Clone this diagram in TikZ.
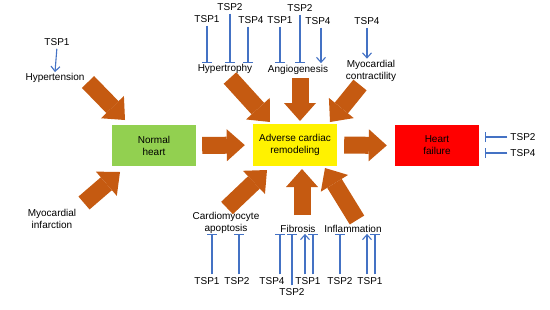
\documentclass[tikz,border=0pt]{standalone}
\usepackage{fontspec}
\setmainfont{Liberation Sans}
\usepackage{xcolor}
\usetikzlibrary{arrows.meta}
\definecolor{remodorange}{HTML}{C55A11}
\definecolor{tspblue}{HTML}{4472C4}
\definecolor{heartgreen}{HTML}{92D050}

\tikzset{
  stagebox/.style={minimum width=84pt,minimum height=41pt,align=center,inner sep=0pt},
  lbl/.style={align=center,inner sep=1pt},
  bigarrow/.style={remodorange,line width=17pt,
    -{Triangle[length=18pt,width=32pt,line width=0pt]}},
  inhibit/.style={tspblue,line width=1.1pt,shorten <=2pt,
    -{Bar[width=10pt]}},
  promote/.style={tspblue,line width=1.1pt,shorten <=2pt,
    -{Straight Barb[length=5pt,width=9pt]}}
}

\begin{document}
\begin{tikzpicture}[x=1pt,y=-1pt,every node/.style={font=\fontsize{10}{12}\selectfont}]
  \useasboundingbox (0,0) rectangle (550,309);

  % Stages
  \node[stagebox,fill=heartgreen] (normal) at (154,145.5) {Normal\\heart};
  \node[stagebox,fill=yellow,minimum height=42pt] (adverse) at (295,145) {Adverse cardiac\\remodeling};
  \node[stagebox,fill=red] (failure) at (437,145.5) {Heart\\failure};

  % Causes
  \node[lbl] (tsp1ht) at (57,42) {TSP1};
  \node[lbl] (hypertension) at (55,78) {Hypertension};
  \node[lbl] (infarction) at (52,219) {Myocardial\\infarction};

  % Top processes
  \node[lbl] (tsp1hy) at (207,19) {TSP1};
  \node[lbl] (tsp2hy) at (230,7) {TSP2};
  \node[lbl] (tsp4hy) at (251,20) {TSP4};
  \node[lbl] (hypertrophy) at (225,69) {Hypertrophy};
  \node[lbl] (tsp1an) at (280,20) {TSP1};
  \node[lbl] (tsp2an) at (300,8) {TSP2};
  \node[lbl] (tsp4an) at (318,21) {TSP4};
  \node[lbl] (angio) at (298,70) {Angiogenesis};
  \node[lbl] (tsp4mc) at (367,21) {TSP4};
  \node[lbl] (contract) at (371,70.5) {Myocardial\\contractility};

  % Bottom processes
  \node[lbl] (apoptosis) at (226,222.5) {Cardiomyocyte\\apoptosis};
  \node[lbl] (fibrosis) at (298,229) {Fibrosis};
  \node[lbl] (inflammation) at (353,229) {Inflammation};
  \node[lbl] (tsp1ap) at (207,281) {TSP1};
  \node[lbl] (tsp2ap) at (237,281) {TSP2};
  \node[lbl] (tsp4fi) at (272,281) {TSP4};
  \node[lbl] (tsp2fi) at (292,292) {TSP2};
  \node[lbl] (tsp1fi) at (308,281) {TSP1};
  \node[lbl] (tsp2in) at (340,281) {TSP2};
  \node[lbl] (tsp1in) at (370,281) {TSP1};

  % Heart failure
  \node[lbl] (tsp2hf) at (523,137) {TSP2};
  \node[lbl] (tsp4hf) at (523,153) {TSP4};

  % Block arrow ends
  \coordinate (htA) at (88,82);   \coordinate (htB) at (125,120);
  \coordinate (miA) at (84,203);  \coordinate (miB) at (120,172);
  \coordinate (hyA) at (230,78);  \coordinate (hyB) at (270,122);
  \coordinate (anA) at (300,78);  \coordinate (anB) at (300,121);
  \coordinate (mcA) at (360,85);  \coordinate (mcB) at (330,122);
  \coordinate (apA) at (227,208); \coordinate (apB) at (267,170);
  \coordinate (fiA) at (302,215); \coordinate (fiB) at (302,169);
  \coordinate (inA) at (357,220); \coordinate (inB) at (325,168);

  % Block arrows
  \draw[bigarrow] (htA) -- (htB);
  \draw[bigarrow] (miA) -- (miB);
  \draw[bigarrow,shorten <=6pt,shorten >=8pt] (normal.east) -- (adverse.west);
  \draw[bigarrow,shorten <=7pt,shorten >=8pt] (adverse.east) -- (failure.west);
  \draw[bigarrow] (hyA) -- (hyB);
  \draw[bigarrow] (anA) -- (anB);
  \draw[bigarrow] (mcA) -- (mcB);
  \draw[bigarrow] (apA) -- (apB);
  \draw[bigarrow] (fiA) -- (fiB);
  \draw[bigarrow] (inA) -- (inB);

  % TSP effects, top
  \draw[promote] (tsp1ht.south) -- (hypertension.north);
  \draw[inhibit] (tsp1hy.south) -- (tsp1hy.south |- hypertrophy.north);
  \draw[inhibit] (tsp2hy.south) -- (tsp2hy.south |- hypertrophy.north);
  \draw[inhibit] ([xshift=-3pt]tsp4hy.south) -- ([xshift=-3pt]tsp4hy.south |- hypertrophy.north);
  \draw[inhibit] (tsp1an.south) -- (tsp1an.south |- hypertrophy.north);
  \draw[inhibit] (tsp2an.south) -- (tsp2an.south |- hypertrophy.north);
  \draw[promote] ([xshift=3pt]tsp4an.south) -- ([xshift=3pt]tsp4an.south |- hypertrophy.north);
  \draw[promote] (tsp4mc.south) -- (tsp4mc.south |- contract.north);

  % TSP effects, bottom
  \draw[inhibit] ([xshift=5pt]tsp1ap.north) -- ([xshift=5pt]tsp1ap.north |- fibrosis.south);
  \draw[inhibit] ([xshift=2pt]tsp2ap.north) -- ([xshift=2pt]tsp2ap.north |- fibrosis.south);
  \draw[inhibit] ([xshift=8pt]tsp4fi.north) -- ([xshift=8pt]tsp4fi.north |- fibrosis.south);
  \draw[inhibit] (tsp2fi.north) -- (tsp2fi.north |- fibrosis.south);
  \draw[promote] ([xshift=-3pt]tsp1fi.north) -- ([xshift=-3pt]tsp1fi.north |- fibrosis.south);
  \draw[inhibit] ([xshift=5pt]tsp1fi.north) -- ([xshift=5pt]tsp1fi.north |- fibrosis.south);
  \draw[inhibit] (tsp2in.north) -- (tsp2in.north |- fibrosis.south);
  \draw[promote] ([xshift=-3pt]tsp1in.north) -- ([xshift=-3pt]tsp1in.north |- fibrosis.south);
  \draw[inhibit] ([xshift=5pt]tsp1in.north) -- ([xshift=5pt]tsp1in.north |- fibrosis.south);

  % TSP effects, heart failure
  \draw[inhibit] (tsp2hf.west) -- ([xshift=6pt]failure.east |- tsp2hf.west);
  \draw[inhibit] (tsp4hf.west) -- ([xshift=6pt]failure.east |- tsp4hf.west);
\end{tikzpicture}
\end{document}
